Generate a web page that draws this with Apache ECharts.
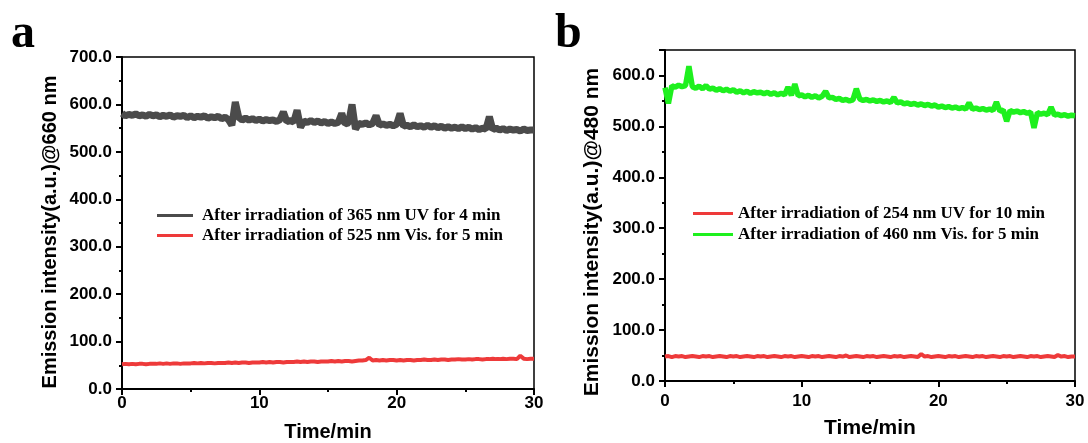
<!DOCTYPE html>
<html>
<head>
<meta charset="utf-8">
<script src="https://cdn.jsdelivr.net/npm/echarts@6/dist/echarts.min.js"></script>
<style>html,body{margin:0;padding:0;background:#fff}#c{width:1088px;height:443px}</style>
</head>
<body>
<div id="c"></div>
<script>
// time points (min)
var times = [0,0.25,0.5,0.75,1,1.25,1.5,1.75,2,2.25,2.5,2.75,3,3.25,3.5,3.75,4,4.25,4.5,4.75,
5,5.25,5.5,5.75,6,6.25,6.5,6.75,7,7.25,7.5,7.75,8,8.25,8.5,8.75,9,9.25,9.5,9.75,
10,10.25,10.5,10.75,11,11.25,11.5,11.75,12,12.25,12.5,12.75,13,13.25,13.5,13.75,14,14.25,14.5,14.75,
15,15.25,15.5,15.75,16,16.25,16.5,16.75,17,17.25,17.5,17.75,18,18.25,18.5,18.75,19,19.25,19.5,19.75,
20,20.25,20.5,20.75,21,21.25,21.5,21.75,22,22.25,22.5,22.75,23,23.25,23.5,23.75,24,24.25,24.5,24.75,
25,25.25,25.5,25.75,26,26.25,26.5,26.75,27,27.25,27.5,27.75,28,28.25,28.5,28.75,29,29.25,29.5,29.75,30];

// panel a: after 365 nm UV (dark)
var a_uv365 = [581,576,579,577,580,576,578,575,579,576,
578,574,577,575,578,573,576,575,577,572,
576,572,575,573,576,571,574,572,575,570,
573,568,556,605,573,567,571,567,570,566,
569,565,568,566,567,564,568,584,564,566,
563,588,552,565,562,566,562,565,561,564,
560,563,560,562,581,559,561,600,548,560,
558,561,557,560,576,556,559,556,558,555,
558,581,554,556,553,557,553,555,552,556,
552,555,551,554,550,553,550,552,549,553,
549,552,548,551,547,550,548,574,547,550,
546,549,545,548,546,547,544,548,545,546,546];

// panel a: after 525 nm Vis (red)
var a_vis525 = [52,53,52,53,52,53,53,52,53,53,
53,54,53,54,53,54,54,53,54,54,
54,55,54,55,54,55,55,54,55,55,
55,56,55,56,55,56,56,55,56,56,
56,57,56,57,56,57,57,56,57,57,
57,58,57,58,57,58,58,57,58,58,
58,59,58,59,58,59,59,58,59,60,
60,61,66,60,61,60,61,60,61,61,
60,61,60,61,61,60,61,61,62,61,
61,62,61,62,62,61,62,62,63,62,
62,63,62,63,63,62,63,63,64,63,
63,64,63,64,64,63,70,64,63,64,64];

// panel b: after 254 nm UV (red)
var b_uv254 = [48,49,47,49,48,49,47,48,49,48,
47,49,48,49,47,48,49,48,47,49,
48,49,47,48,49,48,47,49,48,49,
47,48,49,48,47,49,48,49,47,48,
49,48,47,49,48,49,47,48,49,48,
47,49,48,50,47,48,49,48,47,49,
48,49,47,48,49,48,47,49,48,49,
47,48,49,48,47,53,48,49,47,48,
49,48,47,49,48,49,47,48,49,48,
47,49,48,49,47,48,49,48,47,49,
48,49,47,48,49,48,47,49,48,49,
47,48,49,48,47,51,48,49,47,48,48];

// panel b: after 460 nm Vis (green)
var b_vis460 = [576,545,580,577,581,578,580,618,578,575,
579,574,580,573,575,571,574,570,573,569,
572,567,570,566,569,565,568,566,567,564,
567,563,566,562,565,562,577,561,583,560,
562,558,561,557,560,556,559,569,556,557,
553,555,551,553,550,552,574,554,551,553,
550,552,549,551,548,550,547,557,546,548,
544,546,543,545,542,544,541,543,540,542,
538,540,537,539,536,538,535,537,534,546,
534,536,533,535,532,534,531,548,530,532,
510,531,528,530,527,529,526,528,497,527,
524,526,523,538,522,524,521,523,520,522,521];

var legendA = ['After irradiation of 365 nm UV for 4 min', 'After irradiation of 525 nm Vis. for 5 min'];
var legendB = ['After irradiation of 254 nm UV for 10 min', 'After irradiation of 460 nm Vis. for 5 min'];

function pairs(xs, ys){ return xs.map(function(x,i){ return [x, ys[i]]; }); }

var SANS = '"Liberation Sans", Arial, sans-serif';
var SERIF = '"Liberation Serif", "Times New Roman", serif';

function xAxisFor(gi, fs, gap, lfs, lm){
  return {
    gridIndex: gi, type: 'value', min: 0, max: 30, interval: 10,
    name: 'Time/min', nameLocation: 'middle', nameGap: gap,
    nameTextStyle: {fontFamily: SANS, fontWeight: 'bold', fontSize: fs, color: '#000'},
    axisLine: {show: true, lineStyle: {color: '#000', width: 2}},
    axisTick: {show: true, inside: false, length: 6, lineStyle: {color: '#000', width: 2}},
    minorTick: {show: true, splitNumber: 2, length: 3, lineStyle: {color: '#000', width: 2}},
    axisLabel: {fontFamily: SANS, fontWeight: 'bold', fontSize: lfs, color: '#000', margin: lm},
    splitLine: {show: false}
  };
}
function yAxisFor(gi, max, fs){
  return {
    gridIndex: gi, type: 'value', min: 0, max: max, interval: 100,
    axisLine: {show: true, lineStyle: {color: '#000', width: 2}},
    axisTick: {show: true, inside: false, length: 6, lineStyle: {color: '#000', width: 2}},
    minorTick: {show: true, splitNumber: 2, length: 3, lineStyle: {color: '#000', width: 2}},
    axisLabel: {fontFamily: SANS, fontWeight: 'bold', fontSize: fs, color: '#000', margin: 10,
      showMaxLabel: max === 700,
      formatter: function(v){ return v.toFixed(1); }},
    splitLine: {show: false}
  };
}

var chart = echarts.init(document.getElementById('c'), null, {renderer: 'canvas'});
chart.setOption({
  animation: false,
  backgroundColor: '#fff',
  grid: [
    {left: 122, top: 57, width: 412, height: 332, outerBoundsMode: 'none', containLabel: false,
     show: true, borderColor: '#000', borderWidth: 1.5, backgroundColor: 'transparent'},
    {left: 665, top: 50, width: 410, height: 331, outerBoundsMode: 'none', containLabel: false,
     show: true, borderColor: '#000', borderWidth: 1.5, backgroundColor: 'transparent'}
  ],
  xAxis: [xAxisFor(0, 20, 33, 17, 6), xAxisFor(1, 21, 37, 17, 12)],
  yAxis: [yAxisFor(0, 700, 17), yAxisFor(1, 650, 17)],
  legend: [
    {data: legendA, orient: 'vertical', left: 152, top: 202, itemWidth: 36, itemHeight: 3, itemGap: 3,
     icon: 'rect',
     textStyle: {fontFamily: SERIF, fontWeight: 'bold', fontSize: 17, color: '#000', padding: [0,0,0,4]}},
    {data: legendB, orient: 'vertical', left: 688, top: 200, itemWidth: 40, itemHeight: 3, itemGap: 4,
     icon: 'rect',
     textStyle: {fontFamily: SERIF, fontWeight: 'bold', fontSize: 17, color: '#000', padding: [0,0,0,0]}}
  ],
  graphic: [
    {type: 'text', left: 11, top: 11, style: {text: 'a', font: 'bold 48px ' + SERIF, fill: '#000'}},
    {type: 'text', left: 555, top: 11, style: {text: 'b', font: 'bold 48px ' + SERIF, fill: '#000'}},
    {type: 'text', x: 50, y: 232, rotation: Math.PI/2,
     style: {text: 'Emission intensity(a.u.)@660 nm', font: 'bold 20px ' + SANS, fill: '#000', align: 'center', verticalAlign: 'middle'}},
    {type: 'text', x: 592, y: 232, rotation: Math.PI/2,
     style: {text: 'Emission intensity(a.u.)@480 nm', font: 'bold 21px ' + SANS, fill: '#000', align: 'center', verticalAlign: 'middle'}}
  ],
  series: [
    {name: legendA[0], type: 'line', xAxisIndex: 0, yAxisIndex: 0, data: pairs(times, a_uv365),
     symbol: 'none', lineStyle: {color: '#4b4b4b', width: 7}, itemStyle: {color: '#4b4b4b'}},
    {name: legendA[1], type: 'line', xAxisIndex: 0, yAxisIndex: 0, data: pairs(times, a_vis525),
     symbol: 'none', lineStyle: {color: '#ee3a3a', width: 4}, itemStyle: {color: '#ee3a3a'}},
    {name: legendB[0], type: 'line', xAxisIndex: 1, yAxisIndex: 1, data: pairs(times, b_uv254),
     symbol: 'none', lineStyle: {color: '#ee3a3a', width: 4}, itemStyle: {color: '#ee3a3a'}},
    {name: legendB[1], type: 'line', xAxisIndex: 1, yAxisIndex: 1, data: pairs(times, b_vis460),
     symbol: 'none', lineStyle: {color: '#1ef01e', width: 5.5}, itemStyle: {color: '#1ef01e'}}
  ]
});
</script>
</body>
</html>
